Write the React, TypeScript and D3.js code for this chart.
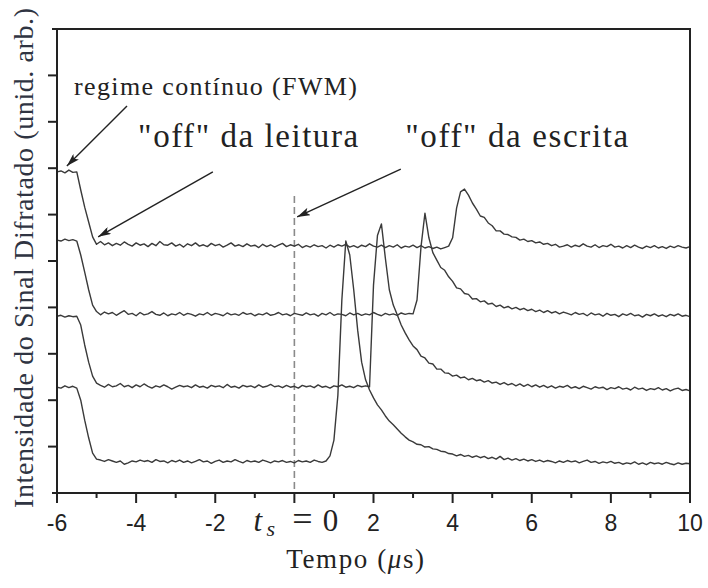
import React from "react";
import * as d3 from "d3";

// ---------- data ----------
// signals sampled every 0.1 µs from -6 µs to 10 µs (arbitrary units, 0..100 full scale)
const T_START = -6;
const T_STEP = 0.1;

const traceA = [
  69.2, 69.4, 69.0, 69.6, 69.1, 69.2, 65.3, 61.6, 58.4, 55.2,
  53.6, 54.2, 53.5, 53.9, 53.3, 53.8, 53.4, 54.1, 53.6, 53.2,
  53.9, 53.4, 53.7, 53.1, 53.8, 53.3, 54.2, 53.5, 53.4, 53.9,
  53.2, 53.6, 53.0, 53.7, 53.3, 53.9, 53.2, 53.5, 53.1, 53.8,
  53.3, 53.6, 53.0, 53.4, 53.9, 53.2, 53.5, 53.1, 53.7, 53.2,
  53.4, 52.9, 53.6, 53.1, 53.5, 53.0, 53.4, 53.8, 53.1, 53.5,
  53.2, 53.6, 52.9, 53.3, 53.0, 53.5, 53.1, 53.3, 52.8, 53.4,
  53.0, 53.5, 53.2, 53.6, 53.0, 53.3, 52.9, 53.4, 53.1, 53.7,
  53.2, 53.0, 53.4, 52.9, 53.3, 53.0, 53.5, 52.8, 53.2, 53.0,
  53.4, 52.9, 53.3, 52.8, 53.1, 52.7, 53.0, 52.6, 52.9, 53.2,
  55.0, 61.4, 64.9, 65.5, 64.2, 62.5, 61.2, 59.7, 59.4, 58.2,
  57.6, 56.5, 56.5, 55.8, 55.7, 55.2, 55.1, 54.5, 54.7, 54.2,
  54.4, 53.9, 54.1, 53.6, 53.8, 53.3, 53.6, 53.0, 53.2, 53.5,
  53.0, 53.4, 53.1, 53.7, 53.2, 53.0, 53.5, 52.9, 53.3, 53.1,
  53.6, 53.0, 53.2, 52.8, 53.3, 52.9, 53.4, 53.0, 52.7, 53.2,
  52.9, 53.3, 52.8, 53.1, 52.7, 53.2, 52.9, 53.3, 53.0, 52.8,
  53.1,
];

const traceB = [
  54.5, 54.3, 54.7, 54.4, 54.6, 54.3, 51.3, 47.6, 43.8, 40.5,
  39.1, 38.4, 39.0, 38.6, 38.9, 38.3, 38.8, 39.3, 38.5, 38.7,
  38.2, 38.9, 38.4, 38.6, 39.1, 38.5, 38.3, 38.8, 38.2, 38.6,
  38.4, 38.9, 38.3, 38.7, 38.5, 38.1, 38.6, 38.4, 38.9, 38.3,
  38.7, 38.5, 38.2, 38.8, 38.4, 38.6, 38.3, 38.9, 38.5, 38.7,
  38.2, 38.6, 38.4, 38.8, 38.3, 38.5, 38.9, 38.4, 38.6, 38.2,
  38.7, 38.5, 38.3, 38.8, 38.4, 38.6, 38.1, 38.7, 38.4, 38.9,
  38.3, 38.6, 38.5, 38.2, 38.8, 38.4, 38.7, 38.3, 38.6, 38.4,
  38.9, 38.5, 38.2, 38.7, 38.4, 38.6, 38.3, 38.8, 38.5, 38.7,
  38.6, 41.6, 53.0, 60.3, 55.0, 51.8, 50.2, 48.6, 48.0, 46.6,
  45.6, 44.2, 44.0, 43.0, 42.8, 41.8, 41.9, 41.2, 41.4, 40.7,
  40.9, 40.2, 40.5, 39.9, 40.2, 39.7, 40.0, 39.5, 39.8, 39.3,
  39.6, 39.1, 39.4, 38.9, 39.3, 38.8, 39.1, 38.6, 39.0, 38.7,
  38.4, 38.9, 38.5, 38.7, 38.2, 38.8, 38.4, 38.6, 38.1, 38.7,
  38.3, 38.5, 38.0, 38.6, 38.3, 38.7, 38.2, 38.4, 37.9, 38.5,
  38.2, 38.6, 38.1, 38.4, 38.0, 38.5, 38.2, 38.6, 38.1, 38.3,
  38.0,
];

const traceC = [
  38.1, 38.3, 37.9, 38.2, 38.0, 38.1, 36.2, 31.9, 28.2, 25.2,
  23.7, 23.2, 22.8, 23.4, 22.9, 23.1, 23.6, 22.9, 23.2, 22.7,
  23.3, 22.9, 23.5, 23.0, 22.6, 23.1, 22.8, 23.3, 22.9, 22.4,
  22.8, 23.2, 22.9, 23.1, 22.7, 23.3, 22.8, 23.0, 22.6, 23.2,
  22.9, 23.1, 22.7, 23.4, 22.8, 23.0, 22.6, 23.2, 22.9, 23.1,
  22.7, 23.3, 22.8, 23.0, 23.4, 22.9, 23.1, 22.7, 23.2, 22.8,
  23.0, 22.6, 23.2, 22.9, 23.1, 22.7, 23.3, 22.8, 23.0, 22.6,
  23.1, 22.9, 23.3, 22.8, 23.0, 22.7, 23.2, 22.9, 23.1, 22.9,
  44.8, 55.5, 58.0, 50.6, 43.8, 40.5, 38.4, 36.2, 34.5, 33.0,
  31.7, 30.9, 29.5, 29.1, 28.0, 27.8, 26.7, 26.7, 25.9, 25.8,
  25.2, 25.4, 24.8, 25.0, 24.4, 24.7, 24.2, 24.4, 23.9, 24.2,
  23.7, 23.9, 23.4, 23.8, 23.3, 23.6, 23.1, 23.5, 23.0, 23.4,
  22.9, 23.3, 22.8, 23.2, 22.7, 23.1, 22.6, 23.0, 22.8, 23.2,
  22.6, 22.9, 22.5, 23.0, 22.7, 22.4, 22.9, 22.6, 22.8, 22.3,
  22.7, 22.5, 22.9, 22.4, 22.6, 22.2, 22.8, 22.4, 22.6, 22.1,
  22.5, 22.3, 22.7, 22.2, 22.5, 22.0, 22.4, 22.6, 22.1, 22.3,
  22.0,
];

const traceD = [
  22.8, 22.6, 23.1, 22.7, 23.0, 22.6, 20.0, 15.7, 11.9, 8.6,
  7.3, 7.1, 6.8, 7.2, 6.9, 6.6, 6.9, 6.2, 6.5, 6.9,
  6.7, 7.1, 6.8, 7.0, 6.6, 7.2, 6.8, 6.9, 6.5, 7.0,
  6.7, 7.1, 6.6, 6.9, 6.5, 6.8, 7.2, 6.7, 6.9, 6.4,
  6.8, 7.1, 6.6, 6.9, 6.7, 7.2, 6.8, 6.5, 7.0, 6.7,
  6.9, 6.6, 7.1, 6.8, 6.5, 6.9, 6.7, 7.0, 6.6, 6.8,
  6.5, 7.0, 6.7, 6.9, 6.6, 7.1, 6.8, 6.6, 6.9, 8.0,
  11.4, 21.1, 41.6, 54.3, 51.3, 43.8, 35.1, 28.2, 24.4, 22.2,
  20.5, 19.0, 17.9, 16.6, 15.5, 14.7, 13.8, 12.9, 12.1, 11.4,
  11.0, 10.5, 10.4, 9.9, 10.0, 9.5, 9.4, 9.0, 8.9, 8.5,
  8.4, 8.0, 8.3, 7.9, 8.1, 7.7, 8.0, 7.6, 7.9, 7.4,
  7.7, 7.3, 7.9, 7.2, 7.5, 7.1, 7.4, 7.0, 7.3, 6.9,
  7.2, 6.8, 7.1, 6.7, 7.0, 6.8, 6.5, 6.9, 6.6, 7.0,
  6.7, 6.9, 6.5, 6.8, 7.1, 6.6, 6.8, 6.4, 6.7, 6.5,
  6.8, 6.4, 6.6, 6.2, 6.5, 6.3, 6.7, 6.2, 6.5, 6.1,
  6.6, 6.3, 6.5, 6.2, 6.6, 6.3, 6.1, 6.5, 6.2, 6.4,
  6.3,
];

const traces = [traceA, traceB, traceC, traceD];

const xMajorTicks = [-6, -4, -2, 0, 2, 4, 6, 8, 10];
const xMajorLabels = ["-6", "-4", "-2", "", "2", "4", "6", "8", "10"];
const xMinorTicks = [-5, -3, -1, 1, 3, 5, 7, 9];
const yTicks = [0, 10, 20, 30, 40, 50, 60, 70, 80, 90, 100];

const yAxisLabel = "Intensidade do Sinal Difratado (unid. arb.)";
const xAxisLabelMain = "Tempo (";
const xAxisLabelMu = "μ";
const xAxisLabelEnd = "s)";

// annotations in data coordinates (time µs, intensity)
const annotationTexts = [
  { text: "regime contínuo (FWM)", t: -5.57, v: 85.8, size: 26, width: 283 },
  { text: "\"off\" da leitura", t: -3.95, v: 74.6, size: 33, width: 220 },
  { text: "\"off\" da escrita", t: 2.8, v: 74.6, size: 33, width: 223 },
];
const arrows = [
  { t0: -4.23, v0: 83.4, t1: -5.75, v1: 70.5 },
  { t0: -2.06, v0: 69.2, t1: -4.96, v1: 55.2 },
  { t0: 2.69, v0: 69.8, t1: 0.07, v1: 59.5 },
];
const markerLine = { t: 0, vTop: 64, vBottom: 0 };

// ---------- layout ----------
const W = 708;
const H = 588;
const plot = { left: 57, right: 690, top: 29, bottom: 493 };

const SERIF = "Liberation Serif";
const SANS = "Liberation Sans";
const INK = "#222";

export default function App() {
  const x = d3.scaleLinear().domain([-6, 10]).range([plot.left, plot.right]);
  const y = d3.scaleLinear().domain([0, 100]).range([plot.bottom, plot.top]);

  const line = d3
    .line<number>()
    .x((_, i) => x(T_START + i * T_STEP))
    .y((d) => y(d))
    .curve(d3.curveLinear);

  const x0 = x(0);

  return (
    <svg
      width={W}
      height={H}
      viewBox={`0 0 ${W} ${H}`}
      style={{ position: "absolute", left: 0, top: 0, background: "#fff" }}
    >
      <defs>
        <marker
          id="ah"
          viewBox="0 0 13 8"
          refX={13}
          refY={4}
          markerWidth={13}
          markerHeight={8}
          markerUnits="userSpaceOnUse"
          orient="auto"
        >
          <path d="M0,0 L13,4 L0,8 L3,4 z" fill={INK} />
        </marker>
        <clipPath id="plotclip">
          <rect x={plot.left} y={plot.top} width={plot.right - plot.left} height={plot.bottom - plot.top} />
        </clipPath>
      </defs>
      <rect x={0} y={0} width={W} height={H} fill="#fff" />

      {/* dashed marker at t_s = 0 */}
      <line
        x1={x(markerLine.t)}
        x2={x(markerLine.t)}
        y1={y(markerLine.vTop)}
        y2={y(markerLine.vBottom)}
        stroke="#8a8a8a"
        strokeWidth={1.6}
        strokeDasharray="7 4"
      />

      {/* traces */}
      <g clipPath="url(#plotclip)">
        {traces.map((tr, k) => (
          <path key={k} d={line(tr) || ""} fill="none" stroke="#3a3a3a" strokeWidth={1.4} strokeLinejoin="round" />
        ))}
      </g>

      {/* frame */}
      <rect
        x={plot.left}
        y={plot.top}
        width={plot.right - plot.left}
        height={plot.bottom - plot.top}
        fill="none"
        stroke={INK}
        strokeWidth={2}
      />

      {/* y ticks (no labels) */}
      {yTicks.map((v, i) => {
        const len = i === 0 || i === yTicks.length - 1 ? 5 : 9;
        return <line key={"yt" + v} x1={plot.left - len} x2={plot.left} y1={y(v)} y2={y(v)} stroke={INK} strokeWidth={2} />;
      })}

      {/* x ticks */}
      {xMajorTicks.map((t) => (
        <line key={"xM" + t} x1={x(t)} x2={x(t)} y1={plot.bottom} y2={plot.bottom + 10} stroke={INK} strokeWidth={2} />
      ))}
      {xMinorTicks.map((t) => (
        <line key={"xm" + t} x1={x(t)} x2={x(t)} y1={plot.bottom} y2={plot.bottom + 5} stroke={INK} strokeWidth={2} />
      ))}
      {xMajorTicks.map((t, i) =>
        xMajorLabels[i] ? (
          <text key={"xl" + t} x={x(t)} y={531} textAnchor="middle" fontFamily={SANS} fontSize={23} fill={INK}>
            {xMajorLabels[i]}
          </text>
        ) : null
      )}

      {/* t_s = 0 label */}
      <text x={x0 - 41} y={531} fontFamily={SERIF} fontSize={31} fontStyle="italic" fill={INK}>t</text>
      <text x={x0 - 28} y={536} fontFamily={SERIF} fontSize={22} fontStyle="italic" fill={INK}>s</text>
      <text x={x0 + 8} y={531} textAnchor="middle" fontFamily={SERIF} fontSize={36} fill={INK}>=</text>
      <text x={x0 + 36} y={531} textAnchor="middle" fontFamily={SERIF} fontSize={31} fill={INK}>0</text>

      {/* x axis title */}
      <text x={356} y={568} textAnchor="middle" fontFamily={SERIF} fontSize={27} fill={INK} letterSpacing={1.6}>
        {xAxisLabelMain}
        <tspan fontStyle="italic">{xAxisLabelMu}</tspan>
        {xAxisLabelEnd}
      </text>

      {/* y axis title */}
      <text
        transform={`translate(33, ${(plot.top + plot.bottom) / 2 - 3}) rotate(-90)`}
        textAnchor="middle"
        fontFamily={SERIF}
        fontSize={28}
        fill="#2f3442"
        textLength={500}
        lengthAdjust="spacing"
      >
        {yAxisLabel}
      </text>

      {/* annotations */}
      {annotationTexts.map((a) => (
        <text
          key={a.text}
          x={x(a.t)}
          y={y(a.v)}
          fontFamily={SERIF}
          fontSize={a.size}
          fill={INK}
          textLength={a.width}
          lengthAdjust="spacing"
        >
          {a.text}
        </text>
      ))}
      {arrows.map((a, i) => (
        <line
          key={"ar" + i}
          x1={x(a.t0)}
          y1={y(a.v0)}
          x2={x(a.t1)}
          y2={y(a.v1)}
          stroke={INK}
          strokeWidth={1.4}
          markerEnd="url(#ah)"
        />
      ))}
    </svg>
  );
}
